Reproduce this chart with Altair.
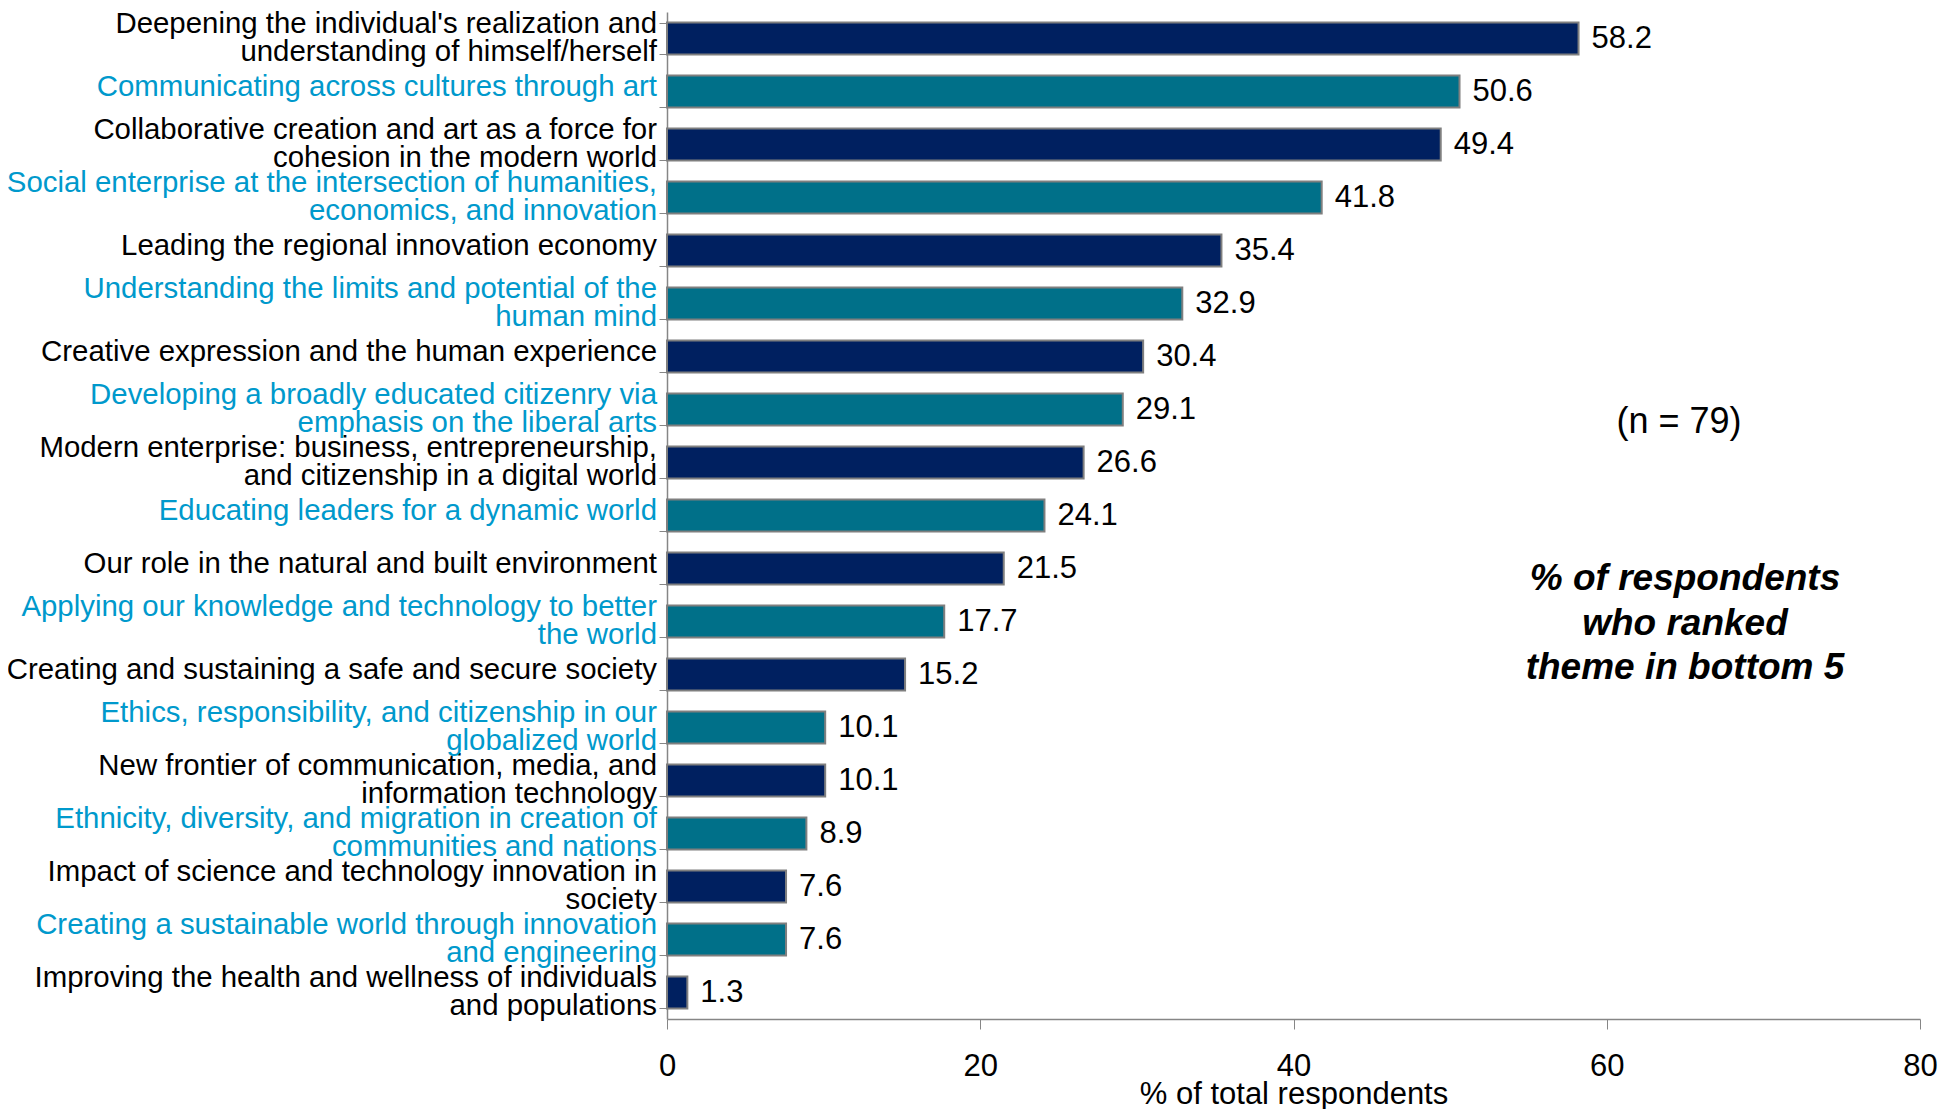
import altair as alt
import pandas as pd

FONT = "Liberation Sans"

themes = [
    "Deepening the individual's realization and|understanding of himself/herself",
    "Communicating across cultures through art",
    "Collaborative creation and art as a force for|cohesion in the modern world",
    "Social enterprise at the intersection of humanities,|economics, and innovation",
    "Leading the regional innovation economy",
    "Understanding the limits and potential of the|human mind",
    "Creative expression and the human experience",
    "Developing a broadly educated citizenry via|emphasis on the liberal arts",
    "Modern enterprise: business, entrepreneurship,|and citizenship in a digital world",
    "Educating leaders for a dynamic world",
    "Our role in the natural and built environment",
    "Applying our knowledge and technology to better|the world",
    "Creating and sustaining a safe and secure society",
    "Ethics, responsibility, and citizenship in our|globalized world",
    "New frontier of communication, media, and|information technology",
    "Ethnicity, diversity, and migration in creation of|communities and nations",
    "Impact of science and technology innovation in|society",
    "Creating a sustainable world through innovation|and engineering",
    "Improving the health and wellness of individuals|and populations",
]
values = [58.2, 50.6, 49.4, 41.8, 35.4, 32.9, 30.4, 29.1, 26.6, 24.1,
          21.5, 17.7, 15.2, 10.1, 10.1, 8.9, 7.6, 7.6, 1.3]
groups = ["dark", "teal"] * 9 + ["dark"]

note_n = ["(n = 79)"]
note_main = ["% of respondents", "who ranked", "theme in bottom 5"]

NAVY = "#002060"
TEAL = "#007089"
BLUE_TXT = "#0099CC"
GRAY = "#868686"

line1 = [t.split("|")[0] for t in themes]
line2 = [t.split("|")[1] if "|" in t else "" for t in themes]
nlines = [2 if "|" in t else 1 for t in themes]

df = pd.DataFrame({"theme": themes, "value": values, "group": groups,
                   "line1": line1, "line2": line2, "nlines": nlines})

y_scale = alt.Scale(domain=themes, paddingInner=0.4, paddingOuter=0.2)

y_enc = alt.Y(
    "theme:N",
    scale=y_scale,
    axis=alt.Axis(
        title=None,
        labels=False,
        tickBand="extent",
        tickSize=8,
        tickColor=GRAY,
        domainColor=GRAY,
        domainWidth=1.5,
    ),
)

x_enc = alt.X(
    "value:Q",
    scale=alt.Scale(domain=[0, 80], nice=False),
    axis=alt.Axis(
        title="% of total respondents",
        titleFont=FONT,
        titleFontSize=31,
        titleFontWeight="normal",
        titleColor="#000000",
        titlePadding=-2,
        values=[0, 20, 40, 60, 80],
        labelFont=FONT,
        labelFontSize=31,
        labelColor="#000000",
        labelPadding=22,
        labelFlush=False,
        tickSize=10,
        tickColor=GRAY,
        domainColor=GRAY,
        domainWidth=1.5,
        grid=False,
    ),
)

base = alt.Chart(df)

bars = base.mark_bar(stroke="#7f7f7f", strokeWidth=2).encode(
    x=x_enc,
    y=y_enc,
    color=alt.Color("group:N", scale=alt.Scale(domain=["dark", "teal"], range=[NAVY, TEAL]), legend=None),
)

values_txt = base.mark_text(align="left", baseline="middle", dx=13, font=FONT, fontSize=31, color="#000000").encode(
    x="value:Q",
    y=alt.Y("theme:N", scale=y_scale),
    text=alt.Text("value:Q", format=".1f"),
)

label_color = alt.condition("datum.group == 'teal'", alt.value(BLUE_TXT), alt.value("#000000"))


def cat_label(field, dy, cond):
    return base.transform_filter(cond).mark_text(
        align="right", baseline="middle", font=FONT, fontSize=29.4, dy=dy
    ).encode(
        x=alt.value(-10),
        y=alt.Y("theme:N", scale=y_scale),
        text=alt.Text(f"{field}:N"),
        color=label_color,
    )


lab_single = cat_label("line1", -5, "datum.nlines == 1")
lab_first = cat_label("line1", -15, "datum.nlines == 2")
lab_second = cat_label("line2", 13, "datum.nlines == 2")

n_text = alt.Chart(pd.DataFrame({"t": note_n})).mark_text(
    align="center", baseline="middle", font=FONT, fontSize=36, color="#000000"
).encode(x=alt.value(1012), y=alt.value(410), text="t:N")

main_text = alt.Chart(pd.DataFrame({"k": [0]})).mark_text(
    text=note_main, align="center", baseline="middle", font=FONT, fontSize=37,
    fontWeight="bold", fontStyle="italic", lineHeight=44.5, color="#000000"
).encode(x=alt.value(1018), y=alt.value(567))

chart = alt.layer(bars, values_txt, lab_single, lab_first, lab_second, n_text, main_text).properties(
    width=1253,
    height=1007,
    autosize=alt.AutoSizeParams(type="none"),
    padding={"left": 659, "top": 4, "right": 26, "bottom": 90},
).configure_view(stroke=None)

chart.save("out.html", embed_options={"renderer": "svg", "actions": False})
